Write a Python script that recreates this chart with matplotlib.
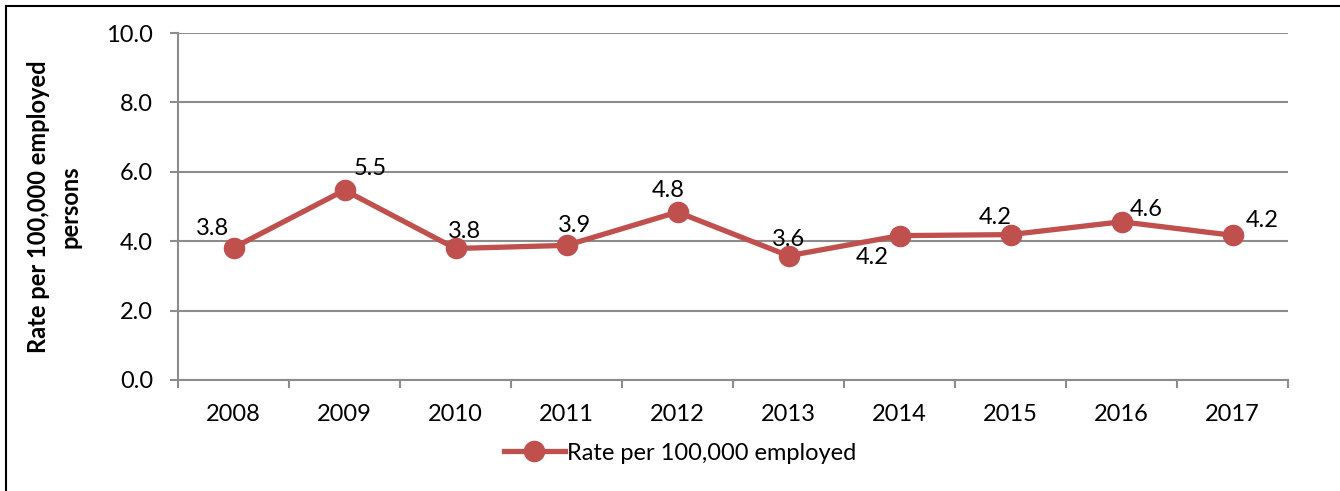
import matplotlib.pyplot as plt
from matplotlib.patches import Rectangle

plt.rcParams['font.family'] = ['Lato', 'DejaVu Sans']

# Data
years = ['2008', '2009', '2010', '2011', '2012', '2013', '2014', '2015', '2016', '2017']
rates = [3.81, 5.47, 3.79, 3.88, 4.84, 3.58, 4.16, 4.19, 4.56, 4.17]
# label offsets in pixels (dx, dy) relative to each point
label_offsets = [(-21, 19), (26, 22), (9, 17), (8, 20), (-9, 22),
                 (0, 16), (-27, -22), (-15, 17), (25, 12), (30, 15)]

line_color = '#C0504D'
grid_color = '#8C8C8C'
fs = 17

fig = plt.figure(figsize=(13.4, 4.91), dpi=100)
ax = fig.add_axes([178 / 1340, 1 - 380 / 491, 1110 / 1340, 347 / 491])

x = list(range(len(years)))
ax.plot(x, rates, color=line_color, linewidth=3.8, marker='o', markersize=14.5,
        label='Rate per 100,000 employed', zorder=3)

for xi, v, (dx, dy) in zip(x, rates, label_offsets):
    ax.annotate(f'{v:.1f}', (xi, v), xytext=(dx, dy), textcoords='offset pixels',
                ha='center', va='center', fontsize=fs, color='black', zorder=4)

ax.set_xlim(-0.5, len(years) - 0.5)
ax.set_ylim(0, 10)
ax.set_yticks([0, 2, 4, 6, 8, 10])
ax.set_yticklabels([f'{t:.1f}' for t in [0, 2, 4, 6, 8, 10]], fontsize=fs)
ax.set_xticks(x)
ax.set_xticklabels(years, fontsize=fs)
ax.tick_params(axis='x', length=0, pad=17)
ax.set_xticks([i - 0.5 for i in range(len(years) + 1)], minor=True)
ax.tick_params(axis='x', which='minor', length=6, width=1.5, color=grid_color)
ax.tick_params(axis='y', length=6, width=1.5, color=grid_color, pad=12)

ax.yaxis.grid(True, color=grid_color, linewidth=1.5)
ax.set_axisbelow(True)
for side in ['top', 'right']:
    ax.spines[side].set_visible(False)
for side in ['left', 'bottom']:
    ax.spines[side].set_color(grid_color)
    ax.spines[side].set_linewidth(1.5)

ax.set_ylabel('Rate per 100,000 employed\npersons', fontsize=fs, fontweight='bold',
              labelpad=18, linespacing=1.45)

fig.legend(loc='center', bbox_to_anchor=(680 / 1340, 1 - 453 / 491), frameon=False,
           fontsize=fs, handlelength=2.6, handletextpad=0.1)

fig.patches.append(Rectangle((6 / 1340, -0.1), 1.2, 1 - 6 / 491 + 0.1,
                             transform=fig.transFigure, fill=False,
                             edgecolor='black', linewidth=1.5))

fig.savefig('out.png', dpi=100)
